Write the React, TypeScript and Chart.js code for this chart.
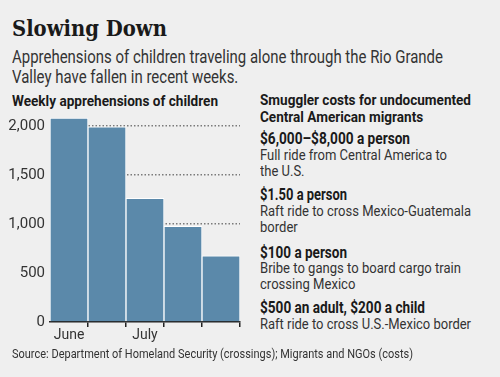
import React, { useEffect, useLayoutEffect, useRef, useState } from "react";
import { Chart, registerables } from "chart.js";

Chart.register(...registerables);

// ---- data ----
const weeks = ["Jun wk1", "Jun wk2", "Jul wk1", "Jul wk2", "Jul wk3"];
const apprehensions = [2080, 1990, 1260, 975, 675];
const monthTickLabels = ["June", "", "July", "", ""];
const yTickValues = [0, 500, 1000, 1500, 2000];

const titleText = "Slowing Down";
const subtitleLines = [
  "Apprehensions of children traveling alone through the Rio Grande",
  "Valley have fallen in recent weeks.",
];
const chartHeading = "Weekly apprehensions of children";
const panelHeadingLines = ["Smuggler costs for undocumented", "Central American migrants"];
const costPrices = [
  "$6,000–$8,000 a person",
  "$1.50 a person",
  "$100 a person",
  "$500 an adult, $200 a child",
];
const costDescriptions = [
  ["Full ride from Central America to", "the U.S."],
  ["Raft ride to cross Mexico-Guatemala", "border"],
  ["Bribe to gangs to board cargo train", "crossing Mexico"],
  ["Raft ride to cross U.S.-Mexico border"],
];
const sourceText =
  "Source: Department of Homeland Security (crossings); Migrants and NGOs (costs)";

const SANS = "Roboto, 'Noto Sans', sans-serif";

type ParaProps = {
  x: number;
  y: number;
  lh?: number;
  size: number;
  weight?: number;
  family?: string;
  color?: string;
  lines: string[];
  w?: number;
};

function Para({ x, y, lh = 16, size, weight = 400, family = SANS, color = "#333", lines, w }: ParaProps) {
  const firstRef = useRef<HTMLDivElement | null>(null);
  const [scale, setScale] = useState(1);
  useLayoutEffect(() => {
    if (w && firstRef.current) {
      const nat = firstRef.current.getBoundingClientRect().width;
      if (nat > 0) setScale(w / nat);
    }
  }, []);
  return (
    <>
      {lines.map((t, i) => (
        <div
          key={i}
          ref={i === 0 ? firstRef : undefined}
          style={{
            position: "absolute",
            left: x,
            top: y + i * lh - size * 0.6,
            fontSize: size,
            lineHeight: size * 1.2 + "px",
            fontWeight: weight,
            fontFamily: family,
            color,
            whiteSpace: "nowrap",
            transform: `scaleX(${scale})`,
            transformOrigin: "0 0",
          }}
        >
          {t}
        </div>
      ))}
    </>
  );
}

function BarChart() {
  const ref = useRef<HTMLCanvasElement | null>(null);
  useEffect(() => {
    if (!ref.current) return;
    const chart = new Chart(ref.current, {
      type: "bar",
      data: {
        labels: weeks,
        datasets: [
          {
            data: apprehensions,
            backgroundColor: "#5b89aa",
            borderColor: "#ffffff",
            borderWidth: 1,
            categoryPercentage: 1,
            barPercentage: 1,
          },
        ],
      },
      options: {
        animation: false,
        responsive: false,
        maintainAspectRatio: false,
        layout: { padding: { top: 16, right: 10, left: 0, bottom: 0 } },
        plugins: { legend: { display: false }, tooltip: { enabled: false } },
        scales: {
          x: {
            grid: {
              offset: true,
              drawOnChartArea: false,
              tickLength: 5,
              lineWidth: 1.5,
              color: (ctx: any) =>
                ctx.index === 0 || ctx.index === weeks.length ? "rgba(0,0,0,0)" : "#222",
            },
            border: { display: true, color: "#222", width: 1.5 },
            ticks: {
              color: "#333",
              padding: 0,
              font: { family: SANS, size: 14 },
              maxRotation: 0,
              autoSkip: false,
              callback: (_v: any, i: number) => monthTickLabels[i],
            },
            afterFit: (s: any) => {
              s.height = 28;
            },
          },
          y: {
            min: 0,
            max: 2100,
            afterBuildTicks: (s: any) => {
              s.ticks = yTickValues.map((v) => ({ value: v }));
            },
            grid: {
              drawTicks: false,
              color: (ctx: any) => (ctx.tick && ctx.tick.value === 0 ? "rgba(0,0,0,0)" : "#7a7a7a"),
              lineWidth: 1.5,
            },
            border: { display: false, dash: [1.5, 2] },
            ticks: {
              color: "#333",
              padding: 5,
              font: { family: SANS, size: 15 },
              callback: (v: any) => Number(v).toLocaleString("en-US"),
            },
            afterFit: (s: any) => {
              s.width = 50;
            },
          },
        },
      },
    } as any);
    return () => chart.destroy();
  }, []);
  return <canvas ref={ref} width={250} height={250} style={{ display: "block" }} />;
}

export default function App() {
  const priceY = [139, 195, 253, 308];
  const descY = [155, 211, 268, 324];
  const priceW = [150, 87, 87, 165];
  const descW = [187, 211, 201, 211];
  return (
    <div
      style={{
        position: "fixed",
        left: 0,
        top: 0,
        width: 500,
        height: 377,
        background: "#efefef",
        overflow: "hidden",
      }}
    >
      <Para
        x={12}
        y={28.5}
        size={22}
        weight={700}
        family="'DejaVu Serif', serif"
        color="#1a1a1a"
        lines={[titleText]}
        w={155}
      />
      <Para x={12} y={56.5} lh={20} size={18} color="#333" lines={subtitleLines} w={431} />
      <Para x={12} y={100.5} size={15} weight={700} color="#1a1a1a" lines={[chartHeading]} w={206} />
      <div style={{ position: "absolute", left: 0, top: 100, width: 250, height: 250 }}>
        <BarChart />
      </div>
      <Para x={260} y={100} lh={16.5} size={15} weight={700} color="#1a1a1a" lines={panelHeadingLines} w={211} />
      {costPrices.map((p, i) => (
        <Para key={"p" + i} x={260} y={priceY[i]} size={16} weight={700} color="#1a1a1a" lines={[p]} w={priceW[i]} />
      ))}
      {costDescriptions.map((d, i) => (
        <Para key={"d" + i} x={260} y={descY[i]} lh={16} size={15.5} color="#333" lines={d} w={descW[i]} />
      ))}
      <Para x={12} y={353} size={13.5} color="#333" lines={[sourceText]} w={401} />
    </div>
  );
}
